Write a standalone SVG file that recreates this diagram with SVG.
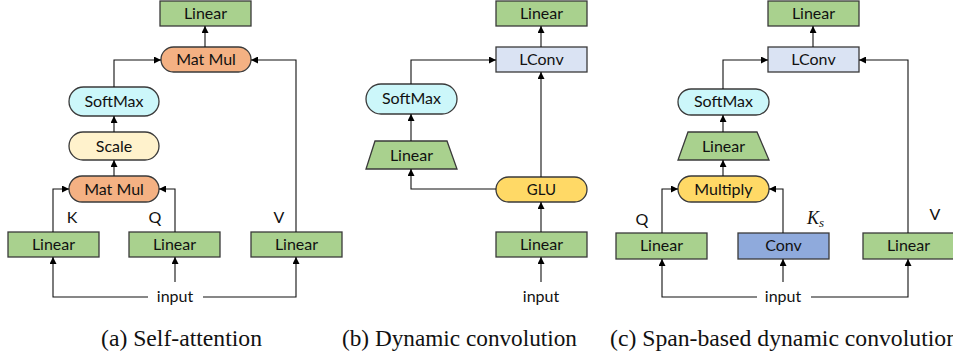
<svg xmlns="http://www.w3.org/2000/svg" width="953" height="356" viewBox="0 0 953 356">
<defs>
<marker id="ah" viewBox="0 0 8 8" refX="8" refY="4" markerWidth="7" markerHeight="7" markerUnits="userSpaceOnUse" orient="auto">
<path d="M0,0 L8,4 L0,8 z" fill="#000"/>
</marker>
<style>
.box{stroke:#3a3a3a;stroke-width:1.3}
.lin{fill:#A9D18E}
.mm{fill:#F4B183}
.sm{fill:#CCF7FA}
.sc{fill:#FFF2CC}
.lc{fill:#DAE3F3}
.glu{fill:#FFD966}
.conv{fill:#8FAADC}
.t{font-family:Lato,"Open Sans",sans-serif;font-size:16px;fill:#111;text-anchor:middle}
.lbl{font-family:Lato,"Open Sans",sans-serif;font-size:16px;fill:#111;text-anchor:middle}
.cap{font-family:"Liberation Serif",serif;font-size:23px;fill:#111}
.c{fill:none;stroke:#111;stroke-width:1.1;marker-end:url(#ah)}
</style>
</defs>

<!-- Panel (a) -->
<g id="a_linear_top"><rect class="box lin" x="160" y="1" width="91" height="25"/><text class="t" x="205.5" y="19">Linear</text></g>
<g id="a_matmul_top"><rect class="box mm" x="161" y="47" width="90" height="25" rx="12.5"/><text class="t" x="206" y="65">Mat Mul</text></g>
<g id="a_softmax"><rect class="box sm" x="69" y="87" width="90" height="29" rx="14.5"/><text class="t" x="114" y="107">SoftMax</text></g>
<g id="a_scale"><rect class="box sc" x="69" y="132" width="90" height="28" rx="14"/><text class="t" x="114" y="152">Scale</text></g>
<g id="a_matmul_bot"><rect class="box mm" x="69" y="176" width="90" height="26" rx="13"/><text class="t" x="114" y="195">Mat Mul</text></g>
<g id="a_linear_k"><rect class="box lin" x="8" y="232" width="91" height="25"/><text class="t" x="53.5" y="250">Linear</text></g>
<g id="a_linear_q"><rect class="box lin" x="129" y="232" width="91" height="25"/><text class="t" x="174.5" y="250">Linear</text></g>
<g id="a_linear_v"><rect class="box lin" x="251" y="232" width="91" height="25"/><text class="t" x="296.5" y="250">Linear</text></g>
<g id="a_labels">
<text class="lbl" x="72" y="223">K</text>
<text class="lbl" x="155" y="223">Q</text>
<text class="lbl" x="279" y="223">V</text>
<text class="t" x="175" y="302">input</text>
</g>

<!-- Panel (b) -->
<g id="b_linear_top"><rect class="box lin" x="496" y="1" width="91" height="25"/><text class="t" x="541.5" y="19">Linear</text></g>
<g id="b_lconv"><rect class="box lc" x="496" y="47" width="91" height="25"/><text class="t" x="541.5" y="65">LConv</text></g>
<g id="b_softmax"><rect class="box sm" x="366" y="84" width="91" height="30" rx="15"/><text class="t" x="411.5" y="104">SoftMax</text></g>
<g id="b_linear_trap"><path class="box lin" d="M375,141 L447,141 L457,169 L366,169 z"/><text class="t" x="411.5" y="161">Linear</text></g>
<g id="b_glu"><rect class="box glu" x="496" y="177" width="91" height="25" rx="12.5"/><text class="t" x="541.5" y="195" style="font-size:15px">GLU</text></g>
<g id="b_linear_bot"><rect class="box lin" x="496" y="232" width="91" height="25"/><text class="t" x="541.5" y="250">Linear</text></g>
<g id="b_labels"><text class="t" x="541" y="302">input</text></g>

<!-- Panel (c) -->
<g id="c_linear_top"><rect class="box lin" x="768" y="1" width="91" height="25"/><text class="t" x="813.5" y="19">Linear</text></g>
<g id="c_lconv"><rect class="box lc" x="768" y="47" width="91" height="25"/><text class="t" x="813.5" y="65">LConv</text></g>
<g id="c_softmax"><rect class="box sm" x="678" y="89" width="91" height="26" rx="13"/><text class="t" x="723.5" y="107">SoftMax</text></g>
<g id="c_linear_trap"><path class="box lin" d="M688,132 L757,132 L769,160 L678,160 z"/><text class="t" x="723.5" y="152">Linear</text></g>
<g id="c_multiply"><rect class="box glu" x="678" y="176" width="91" height="26" rx="13"/><text class="t" x="723.5" y="195">Multiply</text></g>
<g id="c_linear_q"><rect class="box lin" x="616" y="233" width="91" height="26"/><text class="t" x="661.5" y="251">Linear</text></g>
<g id="c_conv"><rect class="box conv" x="738" y="233" width="91" height="26"/><text class="t" x="783.5" y="251">Conv</text></g>
<g id="c_linear_v"><rect class="box lin" x="863" y="233" width="91" height="26"/><text class="t" x="908.5" y="251">Linear</text></g>
<g id="c_labels">
<text class="lbl" x="642" y="225">Q</text>
<text x="807" y="224" style="font-family:'Liberation Serif',serif;font-style:italic;font-size:18px;fill:#111">K<tspan dy="3" style="font-size:13px">s</tspan></text>
<text class="lbl" x="935" y="220">V</text>
<text class="t" x="783" y="302">input</text>
</g>

<!-- Connectors -->
<g id="connectors">
<path class="c" d="M205,47 L205,26"/>
<path class="c" d="M114,87 L114,60 L161,60"/>
<path class="c" d="M296,232 L296,60 L251,60"/>
<path class="c" d="M114,132 L114,116"/>
<path class="c" d="M114,176 L114,160"/>
<path class="c" d="M53,232 L53,189 L69,189"/>
<path class="c" d="M175,232 L175,189 L159,189"/>
<path class="c" d="M148,297 L53,297 L53,257"/>
<path class="c" d="M175,282 L175,257"/>
<path class="c" d="M203,297 L296,297 L296,257"/>

<path class="c" d="M541,47 L541,26"/>
<path class="c" d="M411,84 L411,60 L496,60"/>
<path class="c" d="M411,141 L411,114"/>
<path class="c" d="M496,189 L411,189 L411,169"/>
<path class="c" d="M541,177 L541,72"/>
<path class="c" d="M541,232 L541,202"/>
<path class="c" d="M541,282 L541,257"/>

<path class="c" d="M813,47 L813,26"/>
<path class="c" d="M723,89 L723,60 L768,60"/>
<path class="c" d="M908,233 L908,60 L859,60"/>
<path class="c" d="M723,132 L723,115"/>
<path class="c" d="M723,176 L723,160"/>
<path class="c" d="M662,233 L662,189 L678,189"/>
<path class="c" d="M783,233 L783,189 L769,189"/>
<path class="c" d="M757,297 L662,297 L662,259"/>
<path class="c" d="M783,282 L783,259"/>
<path class="c" d="M811,297 L908,297 L908,259"/>
</g>

<!-- Captions -->
<g id="captions">
<text class="cap" x="101" y="346" textLength="161" lengthAdjust="spacingAndGlyphs">(a) Self-attention</text>
<text class="cap" x="342" y="346" textLength="235" lengthAdjust="spacingAndGlyphs">(b) Dynamic convolution</text>
<text class="cap" x="610" y="346" textLength="348" lengthAdjust="spacingAndGlyphs">(c) Span-based dynamic convolution</text>
</g>
</svg>
